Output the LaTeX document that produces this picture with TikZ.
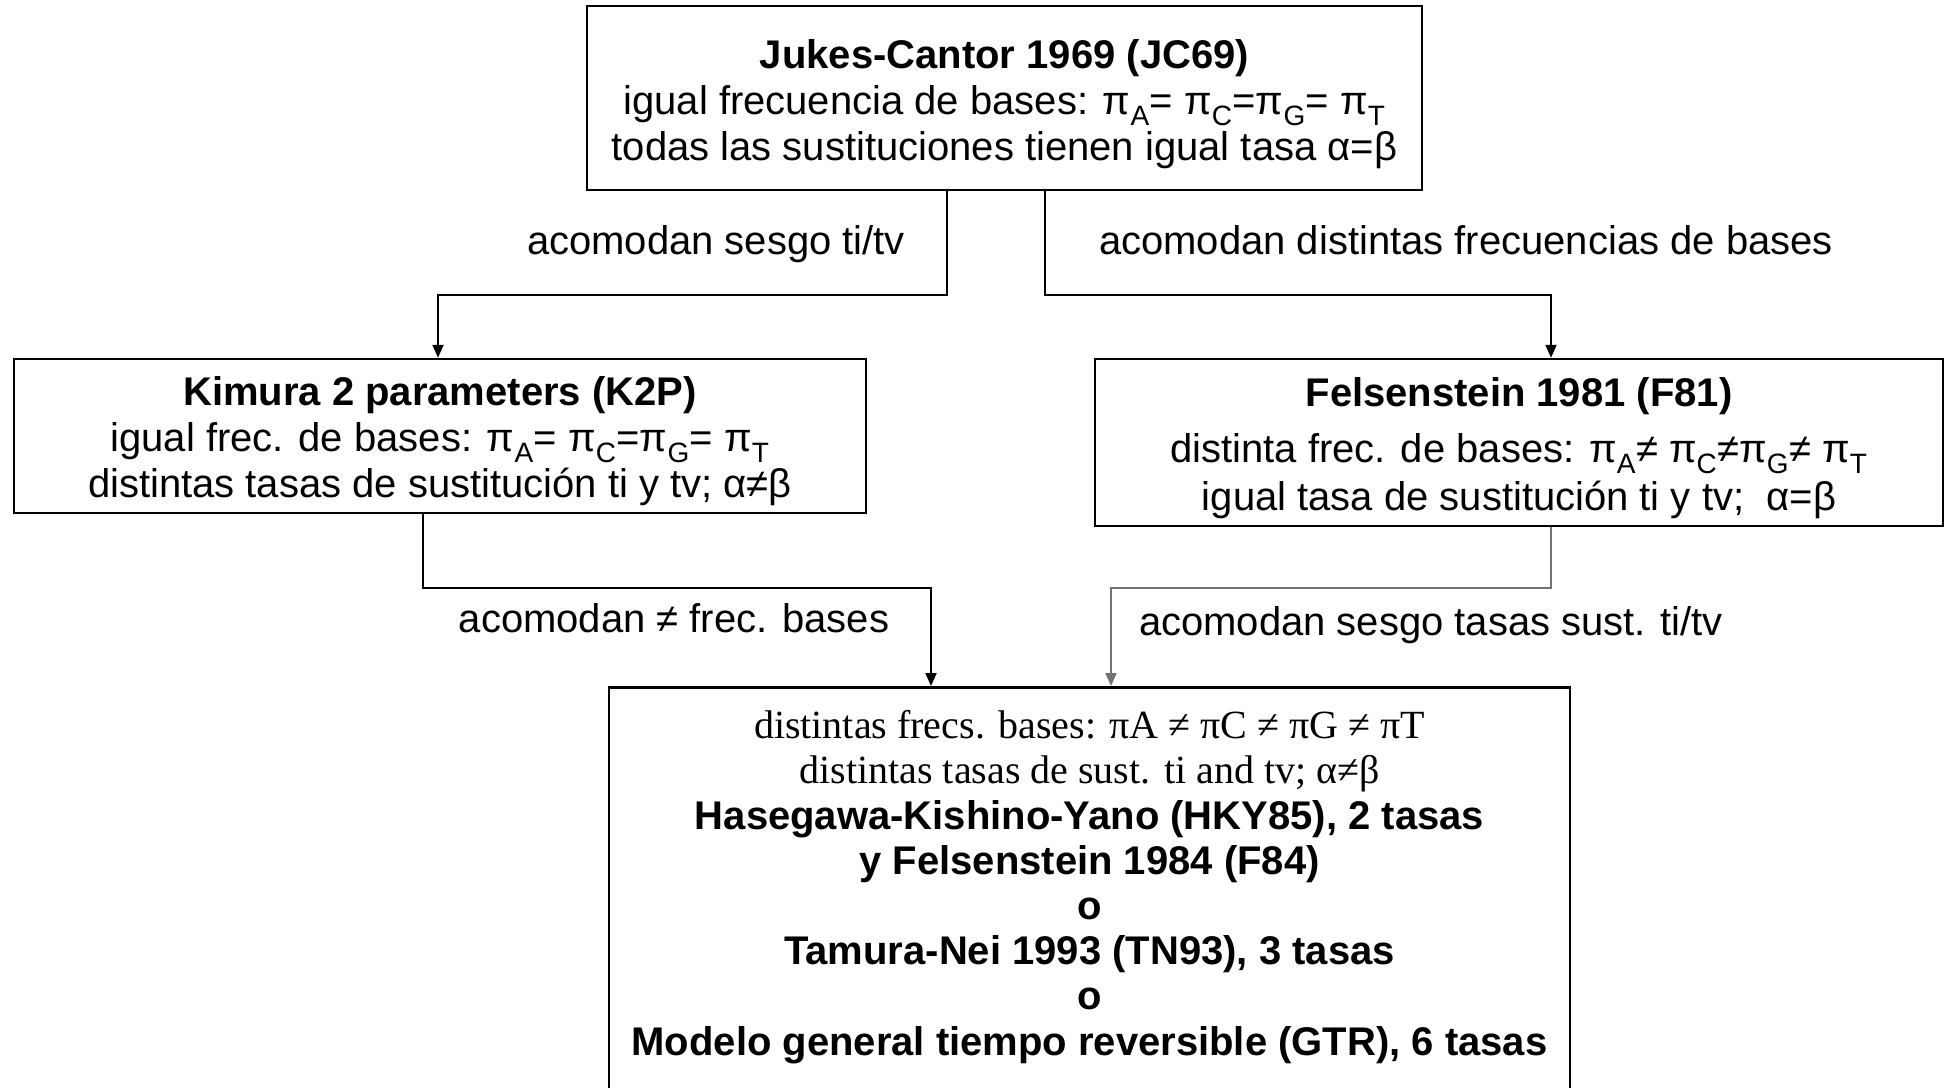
\documentclass[tikz,border=0pt]{standalone}
\usepackage{fontspec}
\setmainfont{Liberation Sans}
\newfontfamily\serifface{Liberation Serif}
\usetikzlibrary{arrows.meta}
\newcommand{\toppad}[1]{\rule{0pt}{#1pt}}
\begin{document}
\begin{tikzpicture}[x=1pt,y=-1pt,
  box/.style={draw=black, line width=2.5pt, inner sep=0pt, align=center, font=\fontsize{40}{46}\selectfont},
  txt/.style={align=center, inner sep=0pt, font=\fontsize{40}{45.2}\selectfont},
  lab/.style={font=\fontsize{40}{46}\selectfont, inner sep=0pt},
  conn/.style={line width=2pt, -{Triangle[length=13pt,width=11pt]}},
]
\clip (0,0) rectangle (1946,1087);
\fill[white] (0,0) rectangle (1946,1087);

\node[box, minimum width=835pt, minimum height=184pt] (jc) at (1004.5,98)
  {\toppad{41}\textbf{Jukes-Cantor 1969 (JC69)}\\
   igual frecuencia de bases: π\textsubscript{A}= π\textsubscript{C}=π\textsubscript{G}= π\textsubscript{T}\\
   todas las sustituciones tienen igual tasa α=β};

\node[box, minimum width=852pt, minimum height=154pt] (k2p) at (440,436)
  {\toppad{39}\textbf{Kimura 2 parameters (K2P)}\\
   igual frec. de bases: π\textsubscript{A}= π\textsubscript{C}=π\textsubscript{G}= π\textsubscript{T}\\
   distintas tasas de sustitución ti y tv; α≠β};

\node[box, minimum width=848pt, minimum height=167pt] (f81) at (1519,442.5)
  {\toppad{40}\textbf{Felsenstein 1981 (F81)}\\[10pt]
   distinta frec. de bases: π\textsubscript{A}≠ π\textsubscript{C}≠π\textsubscript{G}≠ π\textsubscript{T}\\[2pt]
   igual tasa de sustitución ti y tv;\ \ α=β};

\node[box, minimum width=961pt, minimum height=500pt, anchor=north] (bot) at (1089.5,686) {};
\node[txt] (bottxt) at (1089.5,887)
  {{\serifface distintas frecs. bases: πA ≠ πC ≠ πG ≠ πT}\\
   {\serifface distintas tasas de sust. ti and tv; α≠β}\\
   \textbf{Hasegawa-Kishino-Yano (HKY85), 2 tasas}\\
   \textbf{y Felsenstein 1984 (F84)}\\
   \textbf{o}\\
   \textbf{Tamura-Nei 1993 (TN93), 3 tasas}\\
   \textbf{o}\\
   \textbf{Modelo general tiempo reversible (GTR), 6 tasas}};

\node[lab] (l1) at (716,244) {acomodan sesgo ti/tv};
\node[lab] (l2) at (1466,240) {acomodan distintas frecuencias de bases};
\node[lab] (l3) at (674,618) {acomodan ≠ frec. bases};
\node[lab] (l4) at (1431,625) {acomodan sesgo tasas sust. ti/tv};

\coordinate (a1) at (947,295);
\coordinate (a2) at (1045,295);
\coordinate (fx) at (1551,0);
\coordinate (kx) at (438,0);
\coordinate (b1) at (423,588);
\coordinate (b2) at (931,588);
\coordinate (c1) at (1551,588);
\coordinate (c2) at (1111,588);

\draw[conn] (jc.south -| a1) -- (a1) -| (k2p.north -| kx);
\draw[conn] (jc.south -| a2) -- (a2) -| (f81.north -| fx);
\draw[conn] (k2p.south -| b1) -- (b1) -- (b2) -- (bot.north -| b2);
\draw[conn, draw=black!55] (f81.south -| c1) -- (c1) -- (c2) -- (bot.north -| c2);
\end{tikzpicture}
\end{document}
